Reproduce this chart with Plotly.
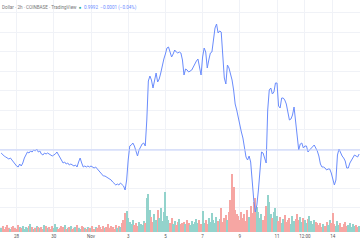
import pandas as pd
import plotly.graph_objects as go

# 2-hour bars
start = "2023-10-27 04:00"
n_bars = 232

price = [
    0.99997, 0.99995, 0.99994, 0.99993, 0.99992, 0.99991, 0.99992, 0.99990, 0.99988, 0.99985,
    0.99984, 0.99983, 0.99986, 0.99984, 0.99987, 0.99992, 0.99995, 0.99998, 0.99997, 0.99999,
    0.99998, 1.00000, 0.99999, 1.00001, 0.99998, 0.99999, 0.99996, 0.99995, 0.99997, 0.99996,
    0.99997, 0.99996, 0.99995, 0.99994, 0.99995, 0.99996, 0.99998, 0.99995, 0.99993, 0.99990,
    0.99987, 0.99988, 0.99986, 0.99987, 0.99985, 0.99986, 0.99985, 0.99984, 0.99985, 0.99983,
    0.99988, 0.99992, 0.99987, 0.99983, 0.99984, 0.99983, 0.99984, 0.99983, 0.99984, 0.99983,
    0.99982, 0.99983, 0.99981, 0.99980, 0.99978, 0.99975, 0.99974, 0.99974, 0.99973, 0.99972,
    0.99971, 0.99970, 0.99968, 0.99966, 0.99965, 0.99966, 0.99965, 0.99967, 0.99965, 0.99964,
    0.99960, 0.99970, 0.99990, 1.00004, 1.00005, 1.00007, 1.00004, 0.99998, 0.99994, 1.00000,
    1.00004, 1.00006, 1.00007, 1.00004, 1.00030, 1.00069, 1.00074, 1.00070, 1.00062, 1.00070,
    1.00077, 1.00068, 1.00071, 1.00077, 1.00085, 1.00091, 1.00096, 1.00102, 1.00103, 1.00098,
    1.00093, 1.00096, 1.00100, 1.00098, 1.00097, 1.00098, 1.00097, 1.00090, 1.00075, 1.00081,
    1.00080, 1.00078, 1.00079, 1.00080, 1.00083, 1.00087, 1.00089, 1.00091, 1.00084, 1.00075,
    1.00093, 1.00102, 1.00098, 1.00082, 1.00090, 1.00097, 1.00098, 1.00112, 1.00122, 1.00126,
    1.00117, 1.00119, 1.00118, 1.00095, 1.00072, 1.00066, 1.00085, 1.00082, 1.00076, 1.00070,
    1.00060, 1.00046, 1.00040, 1.00032, 1.00024, 1.00018, 1.00012, 1.00004, 0.99993, 0.99990,
    0.99994, 0.99988, 0.99968, 0.99950, 0.99938, 0.99945, 0.99960, 0.99982, 0.99998, 0.99997,
    0.99992, 0.99987, 1.00040, 1.00060, 1.00062, 1.00056, 1.00058, 1.00067, 1.00067, 1.00044,
    1.00042, 1.00052, 1.00052, 1.00050, 1.00046, 1.00038, 1.00030, 1.00031, 1.00035, 1.00043,
    1.00028, 1.00008, 1.00000, 1.00006, 1.00007, 1.00002, 1.00004, 1.00004, 0.99998, 1.00000,
    1.00002, 1.00004, 1.00005, 1.00002, 0.99999, 0.99994, 0.99986, 0.99983, 0.99983, 0.99982,
    0.99980, 0.99981, 0.99981, 0.99977, 0.99972, 0.99965, 0.99970, 0.99995, 1.00001, 0.99997,
    0.99994, 0.99992, 0.99989, 0.99982, 0.99982, 0.99987, 0.99990, 0.99993, 0.99995, 0.99994,
    0.99993, 0.99996,
]

volume = [
    4, 6, 3, 5, 7, 4, 3, 5, 6, 4, 3, 7, 5, 4, 6, 3, 5, 4, 6, 8, 5, 3, 4, 6, 5, 4,
    5, 3, 7, 6, 4, 5, 3, 6, 4, 8, 5, 3, 4, 6, 5, 7, 3, 4, 5, 6, 3, 4, 5, 7, 4, 3, 6, 5, 4, 3, 5, 4,
    4, 6, 3, 5, 4, 7, 5, 3, 6, 4, 5, 8, 4, 6, 5, 3, 7, 4, 6, 5,
    9, 12, 19, 21, 14, 10, 8, 12, 7, 9, 6, 10, 8, 7, 11, 9,
    34, 38, 22,
    15, 10, 18, 12, 22, 14, 24, 11, 20, 40, 16,
    12, 9, 14, 8, 11, 7, 10, 13, 8, 9,
    10, 8, 12, 9, 7, 11, 8, 10, 13, 9, 12, 8, 21,
    9, 12, 8, 14, 10, 19, 12, 9, 15, 11, 13, 24, 10, 14, 17, 12, 20,
    32, 58, 45, 22, 18,
    16, 12, 20, 14, 18, 11, 22, 15, 26, 19, 30, 34, 25, 20,
    14, 18, 12, 16, 26, 37, 30, 18, 14, 20, 24, 16,
    11, 15, 9, 13, 17, 10, 12, 14, 8, 16, 11, 13, 18, 12, 15, 10, 14, 12, 9, 13, 16, 11, 8, 12, 10, 9,
    7, 9, 5, 8, 6, 10, 7, 12, 9, 19, 8, 6, 11, 7, 9, 5, 8, 10, 6, 7, 9, 5, 8, 6, 7, 5, 6,
]

tick_dates = ["2023-10-28", "2023-10-30", "2023-11-01", "2023-11-03", "2023-11-05",
              "2023-11-07", "2023-11-09", "2023-11-11", "2023-11-12 12:00", "2023-11-14"]
tick_labels = ["28", "30", "Nov", "3", "5", "7", "9", "11", "12:00", "14"]

reference_level = 1.0
header_title = "Dollar · 2h · COINBASE · TradingView"
header_quote = "0.9992  −0.0001 (−0.04%)"

times = pd.date_range(start, periods=n_bars, freq="2h")
up = [True] + [price[i] >= price[i - 1] for i in range(1, n_bars)]
vol_colors = ["#93d3cc" if u else "#f6a6a3" for u in up]

fig = go.Figure()
fig.add_trace(go.Bar(
    x=times, y=volume, marker=dict(color=vol_colors, line=dict(width=0)),
    width=2 * 3600 * 1000 * 0.78, yaxis="y", hoverinfo="skip",
))
fig.add_trace(go.Scatter(
    x=times, y=price, mode="lines", line=dict(color="#6a8cfc", width=1),
    yaxis="y2",
))

fig.add_shape(type="line", xref="paper", x0=0, x1=1, yref="y2",
              y0=reference_level, y1=reference_level,
              line=dict(color="#c3cffa", width=1))

fig.add_annotation(
    xref="paper", yref="paper", x=0, y=1, xanchor="left", yanchor="top",
    yshift=-2, showarrow=False,
    text=(f"<span style='color:#777'>{header_title}</span>  "
          f"<span style='color:#26a69a'>●</span>  "
          f"<span style='color:#6b8cff'>{header_quote}</span>"),
    font=dict(size=4.6, family="Roboto"),
)

fig.update_layout(
    width=360, height=240,
    margin=dict(l=0, r=0, t=0, b=8),
    paper_bgcolor="white", plot_bgcolor="white",
    showlegend=False, bargap=0,
    xaxis=dict(
        range=["2023-10-27 02:35", "2023-11-15 11:05"],
        tickvals=tick_dates, ticktext=tick_labels,
        tickfont=dict(size=4.5, color="#555", family="Roboto"),
        showgrid=True, gridcolor="#f0f2f7", gridwidth=1,
        showline=False, zeroline=False, ticks="", ticklen=0,
    ),
    yaxis=dict(range=[0, 232], visible=False, showgrid=False, fixedrange=True),
    yaxis2=dict(
        overlaying="y", range=[0.99918, 1.0015],
        tick0=1.00001, dtick=0.000195,
        showgrid=True, gridcolor="#f0f2f7", gridwidth=1,
        showticklabels=False, zeroline=False, showline=False,
    ),
)

fig.write_html("out.html")
